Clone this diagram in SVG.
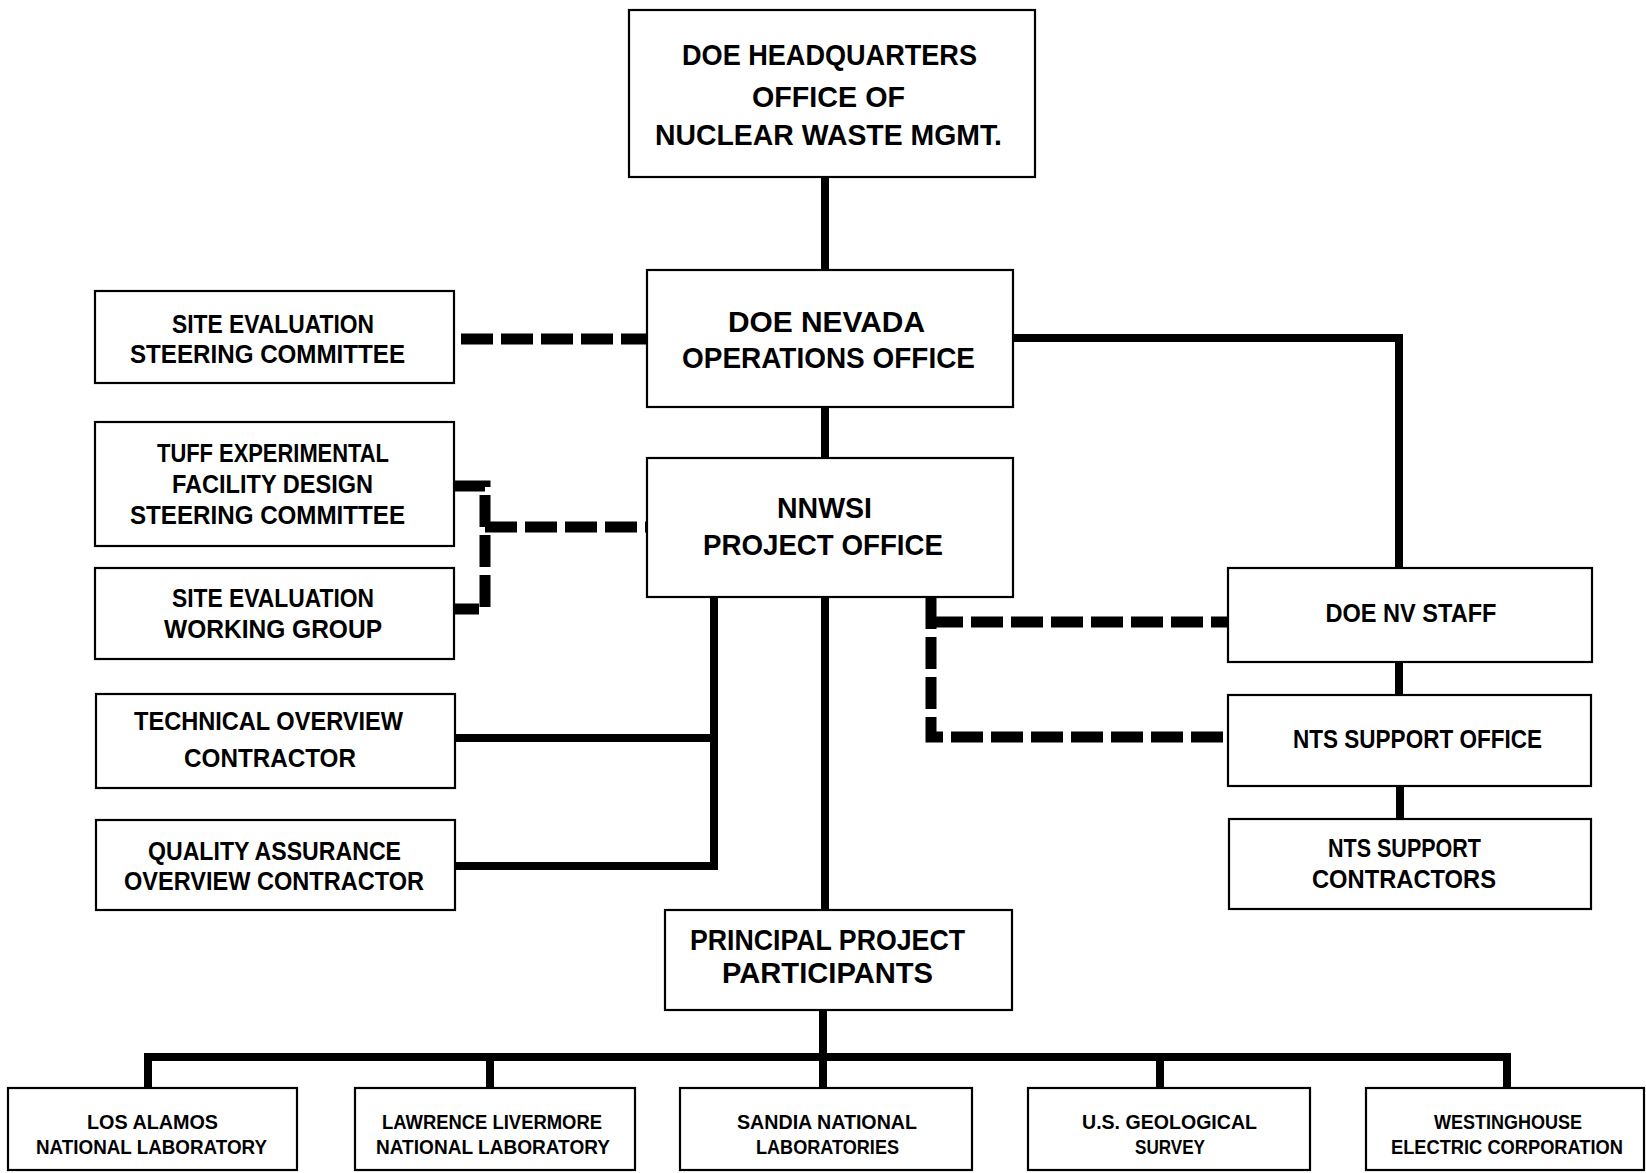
<svg xmlns="http://www.w3.org/2000/svg" width="1646" height="1173" viewBox="0 0 1646 1173">
<style>
.box{fill:#fff;stroke:#000;stroke-width:2.2}
.t{font-family:"Liberation Sans",Arial,sans-serif;font-weight:700;fill:#000;text-anchor:middle}
.big{font-size:30px}
.mid{font-size:25.5px}
.sm{font-size:21px}
.solid{fill:none;stroke:#000;stroke-width:8;stroke-linejoin:miter}
.dash{fill:none;stroke:#000;stroke-width:11;stroke-dasharray:32 8}
</style>
<rect width="1646" height="1173" fill="#fff"/>
<g id="connectors">
<path class="solid" d="M825,177 V270"/>
<path class="solid" d="M825,407 V458"/>
<path class="solid" d="M1013,338 H1399 V568"/>
<path class="solid" d="M1399,662 V695"/>
<path class="solid" d="M1400,786 V819"/>
<path class="solid" d="M455,738 H714"/>
<path class="solid" d="M714,597 V866 H455"/>
<path class="solid" d="M825,597 V910"/>
<path class="solid" d="M823,1010 V1057"/>
<path class="solid" stroke-width="9" d="M148,1088 V1057 H1507 V1088"/>
<path class="solid" d="M490,1057 V1088"/>
<path class="solid" d="M823,1057 V1088"/>
<path class="solid" d="M1160,1057 V1088"/>
<path class="dash" d="M461,339 H647"/>
<path class="dash" d="M454,486 H485 V609 H454"/>
<path class="dash" d="M485,527 H647"/>
<path class="dash" d="M931,597 V737 H1228"/>
<path class="dash" d="M931,622 H1228"/>
</g>
<g id="hq">
<rect class="box" x="629" y="10" width="406" height="167"/>
<text class="t big" font-size="29" x="829.5" y="65" textLength="295" lengthAdjust="spacingAndGlyphs">DOE HEADQUARTERS</text>
<text class="t big" font-size="29" x="828.5" y="107" textLength="153" lengthAdjust="spacingAndGlyphs">OFFICE OF</text>
<text class="t big" font-size="29" x="828.5" y="145" textLength="347" lengthAdjust="spacingAndGlyphs">NUCLEAR WASTE MGMT.</text>
</g>
<g id="nevada">
<rect class="box" x="647" y="270" width="366" height="137"/>
<text class="t big" x="826.5" y="332" textLength="197" lengthAdjust="spacingAndGlyphs">DOE NEVADA</text>
<text class="t big" x="828.5" y="368" textLength="293" lengthAdjust="spacingAndGlyphs">OPERATIONS OFFICE</text>
</g>
<g id="nnwsi">
<rect class="box" x="647" y="458" width="366" height="139"/>
<text class="t big" x="824.5" y="518" textLength="95" lengthAdjust="spacingAndGlyphs">NNWSI</text>
<text class="t big" x="823" y="555" textLength="240" lengthAdjust="spacingAndGlyphs">PROJECT OFFICE</text>
</g>
<g id="sesc">
<rect class="box" x="95" y="291" width="359" height="92"/>
<text class="t mid" x="273" y="333" textLength="202" lengthAdjust="spacingAndGlyphs">SITE EVALUATION</text>
<text class="t mid" x="267.5" y="363" textLength="275" lengthAdjust="spacingAndGlyphs">STEERING COMMITTEE</text>
</g>
<g id="tuff">
<rect class="box" x="95" y="422" width="359" height="124"/>
<text class="t mid" x="273" y="462" textLength="232" lengthAdjust="spacingAndGlyphs">TUFF EXPERIMENTAL</text>
<text class="t mid" x="272.5" y="493" textLength="201" lengthAdjust="spacingAndGlyphs">FACILITY DESIGN</text>
<text class="t mid" x="267.5" y="524" textLength="275" lengthAdjust="spacingAndGlyphs">STEERING COMMITTEE</text>
</g>
<g id="sewg">
<rect class="box" x="95" y="568" width="359" height="91"/>
<text class="t mid" x="273" y="607" textLength="202" lengthAdjust="spacingAndGlyphs">SITE EVALUATION</text>
<text class="t mid" x="273" y="638" textLength="218" lengthAdjust="spacingAndGlyphs">WORKING GROUP</text>
</g>
<g id="toc">
<rect class="box" x="96" y="694" width="359" height="94"/>
<text class="t mid" x="268.5" y="730" textLength="269" lengthAdjust="spacingAndGlyphs">TECHNICAL OVERVIEW</text>
<text class="t mid" x="270" y="767" textLength="172" lengthAdjust="spacingAndGlyphs">CONTRACTOR</text>
</g>
<g id="qaoc">
<rect class="box" x="96" y="820" width="359" height="90"/>
<text class="t mid" x="274.5" y="860" textLength="253" lengthAdjust="spacingAndGlyphs">QUALITY ASSURANCE</text>
<text class="t mid" x="274" y="890" textLength="300" lengthAdjust="spacingAndGlyphs">OVERVIEW CONTRACTOR</text>
</g>
<g id="nvstaff">
<rect class="box" x="1228" y="568" width="364" height="94"/>
<text class="t mid" x="1411" y="622" textLength="171" lengthAdjust="spacingAndGlyphs">DOE NV STAFF</text>
</g>
<g id="ntsso">
<rect class="box" x="1228" y="695" width="363" height="91"/>
<text class="t mid" x="1417.5" y="748" textLength="249" lengthAdjust="spacingAndGlyphs">NTS SUPPORT OFFICE</text>
</g>
<g id="ntsc">
<rect class="box" x="1229" y="819" width="362" height="90"/>
<text class="t mid" x="1404.5" y="857" textLength="153" lengthAdjust="spacingAndGlyphs">NTS SUPPORT</text>
<text class="t mid" x="1404" y="888" textLength="184" lengthAdjust="spacingAndGlyphs">CONTRACTORS</text>
</g>
<g id="ppp">
<rect class="box" x="665" y="910" width="347" height="100"/>
<text class="t big" x="827.5" y="950" textLength="275" lengthAdjust="spacingAndGlyphs">PRINCIPAL PROJECT</text>
<text class="t big" x="827.5" y="983" textLength="211" lengthAdjust="spacingAndGlyphs">PARTICIPANTS</text>
</g>
<g id="lanl">
<rect class="box" x="8" y="1088" width="289" height="82"/>
<text class="t sm" x="152.5" y="1129" textLength="131" lengthAdjust="spacingAndGlyphs">LOS ALAMOS</text>
<text class="t sm" x="151.5" y="1154" textLength="231" lengthAdjust="spacingAndGlyphs">NATIONAL LABORATORY</text>
</g>
<g id="llnl">
<rect class="box" x="355" y="1088" width="280" height="82"/>
<text class="t sm" x="492" y="1129" textLength="220" lengthAdjust="spacingAndGlyphs">LAWRENCE LIVERMORE</text>
<text class="t sm" x="493" y="1154" textLength="234" lengthAdjust="spacingAndGlyphs">NATIONAL LABORATORY</text>
</g>
<g id="sandia">
<rect class="box" x="680" y="1088" width="292" height="82"/>
<text class="t sm" x="827" y="1129" textLength="180" lengthAdjust="spacingAndGlyphs">SANDIA NATIONAL</text>
<text class="t sm" x="827.5" y="1154" textLength="143" lengthAdjust="spacingAndGlyphs">LABORATORIES</text>
</g>
<g id="usgs">
<rect class="box" x="1028" y="1088" width="282" height="82"/>
<text class="t sm" x="1169.5" y="1129" textLength="175" lengthAdjust="spacingAndGlyphs">U.S. GEOLOGICAL</text>
<text class="t sm" x="1170" y="1154" textLength="70" lengthAdjust="spacingAndGlyphs">SURVEY</text>
</g>
<g id="westinghouse">
<rect class="box" x="1366" y="1088" width="278" height="82"/>
<text class="t sm" x="1508" y="1129" textLength="148" lengthAdjust="spacingAndGlyphs">WESTINGHOUSE</text>
<text class="t sm" x="1507" y="1154" textLength="232" lengthAdjust="spacingAndGlyphs">ELECTRIC CORPORATION</text>
</g>
</svg>
